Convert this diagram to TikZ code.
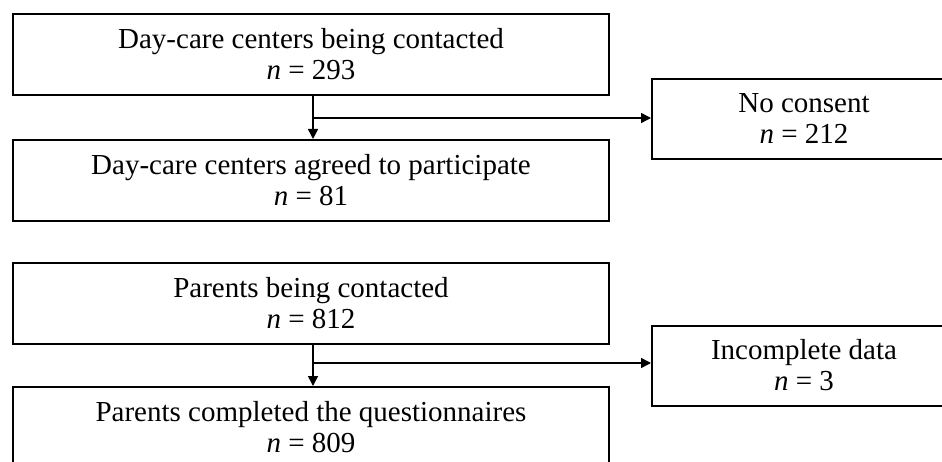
\documentclass[tikz,border=0pt]{standalone}
\usepackage{fontspec}
\setmainfont{Liberation Serif}
\usetikzlibrary{arrows.meta}
\begin{document}
\begin{tikzpicture}[x=1pt,y=1pt,
  box/.style={draw, line width=2pt, minimum width=596pt, minimum height=81pt, inner sep=0pt, align=center, font=\fontsize{29}{31}\selectfont},
  sidebox/.style={box, minimum width=304pt, minimum height=80pt},
  conn/.style={line width=1.5pt, -{Triangle[length=10pt,width=10pt]}}
]
\useasboundingbox[fill=white] (0,0) rectangle (942,-462);
\node[box] (b1) at (311,-54.5) {Day-care centers being contacted\\\textit{n} = 293};
\node[box] (b2) at (311,-180.5) {Day-care centers agreed to participate\\\textit{n} = 81};
\node[sidebox] (nc1) at (804,-119) {No consent\\\textit{n} = 212};
\node[box] (b3) at (311,-303.5) {Parents being contacted\\\textit{n} = 812};
\node[box] (b4) at (311,-427.5) {Parents completed the questionnaires\\\textit{n} = 809};
\node[sidebox] (nc2) at (804,-365.5) {Incomplete data\\\textit{n} = 3};
\coordinate (t1) at (313,-95);
\coordinate (j1) at (313,-118);
\coordinate (t3) at (313,-344);
\coordinate (j3) at (313,-363);
\draw[conn] (t1) -- (t1 |- b2.north);
\draw[conn] (j1) -- (j1 -| nc1.west);
\draw[conn] (t3) -- (t3 |- b4.north);
\draw[conn] (j3) -- (j3 -| nc2.west);
\end{tikzpicture}
\end{document}
